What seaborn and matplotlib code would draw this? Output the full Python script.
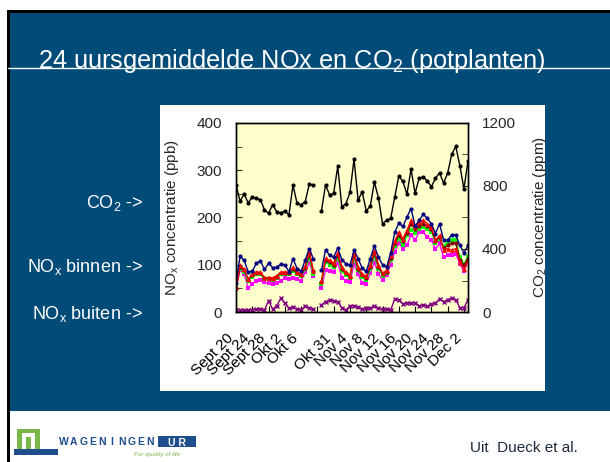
import numpy as np
import pandas as pd
import seaborn as sns
import matplotlib.pyplot as plt
from matplotlib.patches import Rectangle
from matplotlib.lines import Line2D
from matplotlib import font_manager

nan = np.nan

# day index 0..57, index 20 is the empty row between Okt 9 and Okt 28
days = list(range(58))
tick_pos = list(range(0, 57, 4))
tick_labels = ["Sept 20", "Sept 24", "Sept 28", "Okt 2", "Okt 6", "", "Okt 31",
               "Nov 4", "Nov 8", "Nov 12", "Nov 16", "Nov 20", "Nov 24", "Nov 28", "Dec 2"]

co2 = [808, 703, 749, 692, 732, 722, 713, 648, 627, 681, 637, 629, 641, 616, 806, 690, 681, 700, 812, 806,
       nan, 642, 808, 742, 755, 924, 668, 687, 759, 970, 710, 763, 642, 673, 825, 724, 560, 583, 594, 729,
       864, 829, 748, 906, 754, 850, 858, 832, 795, 848, 884, 819, 882, 1001, 1052, 929, 782, 960]

nox_blue = [61, 118, 109, 85, 86, 103, 108, 90, 103, 94, 95, 101, 100, 85, 113, 92, 86, 110, 134, 113,
            nan, 88, 132, 120, 116, 135, 111, 102, 99, 131, 113, 93, 86, 113, 140, 116, 100, 95, 125, 169,
            188, 181, 201, 219, 182, 194, 207, 198, 187, 166, 187, 153, 152, 164, 163, 141, 125, 141]
nox_red = [52, 99, 91, 70, 80, 85, 84, 73, 73, 72, 77, 84, 85, 84, 95, 84, 80, 97, 130, 87,
           nan, 66, 114, 109, 103, 126, 95, 84, 77, 126, 95, 80, 76, 100, 130, 100, 82, 88, 120, 150,
           169, 155, 173, 194, 180, 190, 194, 187, 180, 152, 162, 131, 134, 131, 134, 106, 90, 109]
nox_brown = [50, 95, 88, 68, 78, 82, 82, 72, 72, 70, 75, 82, 83, 82, 92, 82, 78, 94, 123, 86,
             nan, 64, 110, 105, 100, 120, 92, 82, 75, 120, 92, 78, 72, 95, 124, 96, 80, 85, 115, 145,
             162, 150, 168, 186, 175, 183, 187, 182, 175, 150, 158, 135, 141, 146, 145, 110, 99, 113]
nox_green = [56, 92, 85, 66, 75, 80, 80, 70, 70, 68, 73, 80, 81, 80, 87, 80, 76, 90, 116, 80,
             nan, 60, 105, 100, 96, 115, 87, 78, 72, 115, 88, 74, 68, 90, 118, 92, 76, 82, 110, 140,
             155, 141, 162, 174, 168, 176, 180, 176, 170, 146, 155, 140, 146, 153, 152, 116, 102, 116]
nox_magenta = [49, 89, 80, 51, 59, 66, 68, 63, 61, 59, 61, 66, 71, 70, 73, 70, 66, 84, 105, 77,
               nan, 51, 89, 87, 85, 105, 73, 66, 63, 102, 80, 61, 60, 82, 105, 80, 68, 78, 100, 128,
               145, 134, 141, 164, 152, 169, 169, 159, 152, 134, 145, 116, 120, 120, 123, 102, 87, 106]
nox_buiten = [4, 5, 4, 4, 5, 6, 6, 4, 24, 6, 13, 29, 18, 8, 10, 7, 4, 13, 9, 6,
              nan, 15, 22, 25, 24, 21, 9, 4, 13, 13, 10, 6, 8, 8, 13, 8, 6, 6, 4, 28,
              26, 17, 20, 18, 20, 13, 15, 12, 16, 19, 28, 22, 26, 30, 26, 9, 9, 26]

installed = {f.name for f in font_manager.fontManager.ttflist}
narrow = "Liberation Sans Narrow" if "Liberation Sans Narrow" in installed else "Liberation Sans"
title_size = 20 if narrow == "Liberation Sans Narrow" else 18.3

sns.set_style("ticks")
plt.rcParams["font.family"] = ["Liberation Sans", "DejaVu Sans"]

W, H = 610, 462
fig = plt.figure(figsize=(6.1, 4.62), dpi=100)
fig.patch.set_facecolor("white")


def box(x0, y0, x1, y1, color, z=0):
    fig.add_artist(Rectangle((x0 / W, 1 - y1 / H), (x1 - x0) / W, (y1 - y0) / H,
                             transform=fig.transFigure, facecolor=color, edgecolor="none", zorder=z))


def ftext(x, y, s, **kw):
    fig.text(x / W, 1 - y / H, s, **kw)


# slide background
box(8, 12, 610, 411, "#004b78")
box(7, 10, 610, 13, "black")
box(7, 10, 10, 462, "black")
fig.add_artist(Line2D([8 / W, 1], [1 - 68 / H] * 2, color="white", lw=1, transform=fig.transFigure))
ftext(38, 68, r"24 uursgemiddelde NOx en CO$_\mathregular{2}$ (potplanten)", color="white",
      fontsize=title_size, family=[narrow, "DejaVu Sans"], va="baseline")
box(160, 105, 545, 391, "white", z=1)

for y, s in [(203, r"CO$_\mathregular{2}$ ->"), (267, r"NO$_\mathregular{x}$ binnen ->"),
             (314, r"NO$_\mathregular{x}$ buiten ->")]:
    ftext(143, y, s, color="white", fontsize=13, family=[narrow, "DejaVu Sans"], ha="right", va="center")

# footer: Wageningen UR logo
box(17, 429, 40, 452, "#7ab648", z=2)
box(22, 433, 35, 452, "white", z=3)
box(26, 437, 31, 452, "#7ab648", z=4)
box(14, 449, 58, 455, "#1f4e8c", z=5)
for k, ch in enumerate("WAGENINGEN"):
    ftext(64 + k * 9.6, 445, ch, color="#1f4e8c", fontsize=7.5, fontweight="bold", ha="center",
          va="baseline")
box(158, 436, 196, 447, "#1f4e8c", z=2)
ftext(177, 445.5, "U R", color="white", fontsize=7.5, fontweight="bold", ha="center", va="baseline",
      zorder=3)
ftext(134, 456, "For quality of life", color="#7ab648", fontsize=4.5, style="italic", va="baseline")
ftext(470, 452, "Uit  Dueck et al.", color="#1a2a3a", fontsize=11, family=[narrow, "DejaVu Sans"],
      va="baseline")

# chart
ax = fig.add_axes([236 / W, 1 - 312 / H, 232 / W, 189 / H], zorder=3)
ax.set_facecolor("#ffffcc")
ax2 = ax.twinx()

idx = np.array(days)
segs = [idx < 20, idx > 20]
series = [
    (nox_buiten, "#800080", "x", 3.5),
    (nox_magenta, "#ff00ff", "s", 3),
    (nox_green, "#00ff00", "s", 3),
    (nox_brown, "#800000", "o", 3),
    (nox_red, "#ff0000", "^", 3.5),
    (nox_blue, "#000080", "o", 3),
]
for vals, col, mk, ms in series:
    vals = np.array(vals, dtype=float)
    for seg in segs:
        sns.lineplot(x=idx[seg], y=vals[seg], ax=ax, color=col, marker=mk, markersize=ms,
                     markeredgecolor=col, markeredgewidth=1 if mk == "x" else 0, linewidth=1,
                     legend=False)

co2_arr = np.array(co2, dtype=float)
for seg in segs:
    sns.lineplot(x=idx[seg], y=co2_arr[seg], ax=ax2, color="black", marker="o", markersize=3,
                 markeredgewidth=0, linewidth=1, legend=False)

ax.set_xlim(0, 57)
ax.set_ylim(0, 400)
ax2.set_ylim(0, 1200)
ax.set_yticks([0, 100, 200, 300, 400])
ax.set_yticks(range(0, 401, 50), minor=True)
ax2.set_yticks([0, 400, 800, 1200])
ax2.set_yticks(range(0, 1201, 200), minor=True)
ax.set_xticks(tick_pos)
ax.set_xticklabels(tick_labels, rotation=45, ha="right", va="top", fontsize=11)
ax.tick_params(axis="x", direction="in", length=4, pad=14, colors="black")
ax.tick_params(axis="y", which="both", direction="in", length=4, labelsize=11, pad=10)
ax2.tick_params(axis="y", which="both", direction="in", length=4, labelsize=11, pad=10)
ax.set_xlabel("")
ax.set_ylabel(r"NO$_\mathregular{x}$ concentratie (ppb)", fontsize=11)
ax2.set_ylabel(r"CO$_\mathregular{2}$ concentratie (ppm)", fontsize=11)
ax.yaxis.set_label_coords(-0.235, 0.5)
ax2.yaxis.set_label_coords(1.27, 0.5)
for a in (ax, ax2):
    for sp in a.spines.values():
        sp.set_color("black")
        sp.set_linewidth(1)

fig.savefig("out.png", dpi=100, facecolor=fig.get_facecolor())
